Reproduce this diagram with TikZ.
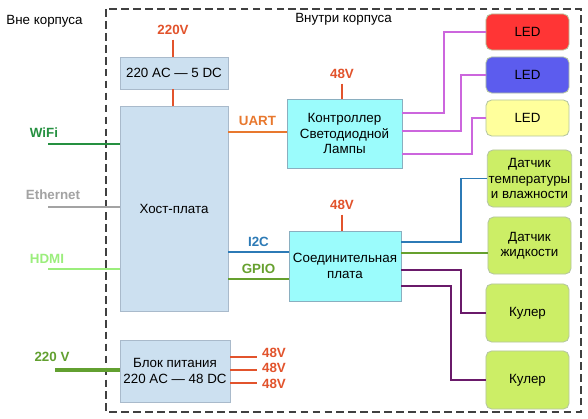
\documentclass[tikz,border=0pt]{standalone}
\usepackage{fontspec}
\setmainfont{Liberation Sans}
\definecolor{hostblue}{HTML}{CCE0F0}
\definecolor{hostedge}{HTML}{A9BACB}
\definecolor{cyanfill}{HTML}{9BFCFC}
\definecolor{cyanedge}{HTML}{8AAFC0}
\definecolor{ledred}{HTML}{FF3535}
\definecolor{ledblue}{HTML}{5C5CEE}
\definecolor{ledyellow}{HTML}{FFFF9C}
\definecolor{sensgreen}{HTML}{CCEE66}
\definecolor{itemedge}{HTML}{B5C6A0}
\definecolor{voltred}{HTML}{E2532C}
\definecolor{uartorange}{HTML}{E8782E}
\definecolor{wifigreen}{HTML}{259040}
\definecolor{ethgray}{HTML}{A3A3A3}
\definecolor{hdmigreen}{HTML}{9BEE7C}
\definecolor{powgreen}{HTML}{62A030}
\definecolor{ictblue}{HTML}{2C7AB6}
\definecolor{gpiogreen}{HTML}{66A02E}
\definecolor{ledviolet}{HTML}{CC66DD}
\definecolor{fanpurple}{HTML}{6A1A6A}
\tikzset{
  block/.style={draw=hostedge, line width=0.6pt, fill=hostblue, align=center, inner sep=1pt},
  ctrlblock/.style={draw=cyanedge, line width=0.6pt, fill=cyanfill, align=center, inner sep=1pt},
  item/.style={draw=itemedge, line width=0.6pt, rounded corners=4pt, minimum width=2.075cm, align=center, inner sep=1pt},
  lbl/.style={font=\fontsize{9.5}{11}\selectfont\bfseries},
  wire/.style={line width=1pt}
}

\begin{document}
\begin{tikzpicture}[x=0.025cm, y=-0.025cm, font=\fontsize{9.5}{11}\selectfont]
\useasboundingbox[fill=white] (0,0) rectangle (588,419);
% case outline
\draw[line width=0.8pt, dash pattern=on 5.5pt off 3pt, black!75] (106,9) rectangle (581,412);
\node (outside) at (44.5,21) {Вне корпуса};
\node (inside) at (343.5,19) {Внутри корпуса};

% power and host
\node[block, minimum width=2.7cm, minimum height=0.8cm] (psu5) at (174,73) {220 AC — 5 DC};
\node[block, minimum width=2.7cm, minimum height=5.125cm] (host) at (174,208.5) {Хост-плата};
\node[block, minimum width=2.75cm, minimum height=1.55cm] (psu48) at (175,371) {Блок питания\\220 AC — 48 DC};
\node[lbl, text=voltred] (v220) at (173,30) {220V};
\draw[wire, voltred] (v220.south) -- (v220.south |- psu5.north);
\draw[wire, voltred] (psu5.south -| v220) -- (host.north -| v220);

% boards
\node[ctrlblock, minimum width=2.875cm, minimum height=1.725cm] (ctrl) at (344.5,133.5) {Контроллер\\Светодиодной\\Лампы};
\node[ctrlblock, minimum width=2.8cm, minimum height=1.75cm] (conn) at (345,266) {Соединительная\\плата};
\node[lbl, text=voltred] (v48a) at (342,74) {48V};
\node[lbl, text=voltred] (v48b) at (342,205) {48V};
\draw[wire, voltred] (v48a.south) -- (v48a.south |- ctrl.north);
\draw[wire, voltred] (v48b.south) -- (v48b.south |- conn.north);

% LEDs and sensors
\node[item, fill=ledred, minimum height=0.9cm] (led1) at (527.5,32) {LED};
\node[item, fill=ledblue, minimum height=0.9cm] (led2) at (527.5,75) {LED};
\node[item, fill=ledyellow, minimum height=0.9cm] (led3) at (527.5,118) {LED};
\node[item, fill=sensgreen, minimum height=1.425cm] (temp) at (529.5,178.5) {Датчик\\температуры\\и влажности};
\node[item, fill=sensgreen, minimum height=1.425cm] (liquid) at (529.5,245.5) {Датчик\\жидкости};
\node[item, fill=sensgreen, minimum height=1.45cm] (cool1) at (527.5,313) {Кулер};
\node[item, fill=sensgreen, minimum height=1.45cm] (cool2) at (527.5,380) {Кулер};

% outside links
\coordinate (wifiend) at (48,144);
\coordinate (ethend) at (48,207);
\coordinate (hdmiend) at (48,269);
\coordinate (mainsend) at (55,370);
\node[lbl, text=wifigreen] (wifi) at (44,133) {WiFi};
\node[lbl, text=ethgray] (eth) at (53,195) {Ethernet};
\node[lbl, text=hdmigreen] (hdmi) at (47,259) {HDMI};
\node[lbl, text=powgreen] (mains) at (52,357) {220 V};
\draw[wire, wifigreen] (wifiend) -- (wifiend -| host.west);
\draw[line width=1.4pt, ethgray] (ethend) -- (ethend -| host.west);
\draw[wire, hdmigreen] (hdmiend) -- (hdmiend -| host.west);
\draw[line width=3pt, powgreen] (mainsend) -- (mainsend -| psu48.west);

% 48V outputs
\node[lbl, text=voltred] (out1) at (274,353) {48V};
\node[lbl, text=voltred] (out2) at (274,368) {48V};
\node[lbl, text=voltred] (out3) at (274,384) {48V};
\draw[wire, voltred] (psu48.east |- 0,357) -- (out1.west |- 0,357);
\draw[wire, voltred] (psu48.east |- 0,370) -- (out2.west |- 0,370);
\draw[wire, voltred] (psu48.east |- 0,383) -- (out3.west |- 0,383);

% host buses
\draw[wire, uartorange] (host.east |- 0,132) -- (ctrl.west |- 0,132) node[midway, above=1pt, lbl] (uart) {UART};
\draw[wire, ictblue] (host.east |- 0,252) -- (conn.west |- 0,252) node[midway, above=0pt, lbl] (ic) {I2C};
\draw[wire, gpiogreen] (host.east |- 0,279) -- (conn.west |- 0,279) node[midway, above=0pt, lbl] (gpio) {GPIO};

% controller to LEDs
\draw[wire, ledviolet] (ctrl.east |- 0,113) -- (444,113) |- (led1.west);
\draw[wire, ledviolet] (ctrl.east |- 0,131) -- (461,131) |- (led2.west);
\draw[wire, ledviolet] (ctrl.east |- 0,154) -- (472,154) |- (led3.west);

% connector board to sensors and fans
\draw[wire, ictblue] (conn.east |- 0,242) -- (461,242) |- (temp.west);
\draw[wire, gpiogreen] (conn.east |- 0,253) -- (liquid.west |- 0,253);
\draw[wire, fanpurple] (conn.east |- 0,270) -- (461,270) |- (cool1.west);
\draw[wire, fanpurple] (conn.east |- 0,286) -- (451,286) |- (cool2.west);
\end{tikzpicture}
\end{document}
